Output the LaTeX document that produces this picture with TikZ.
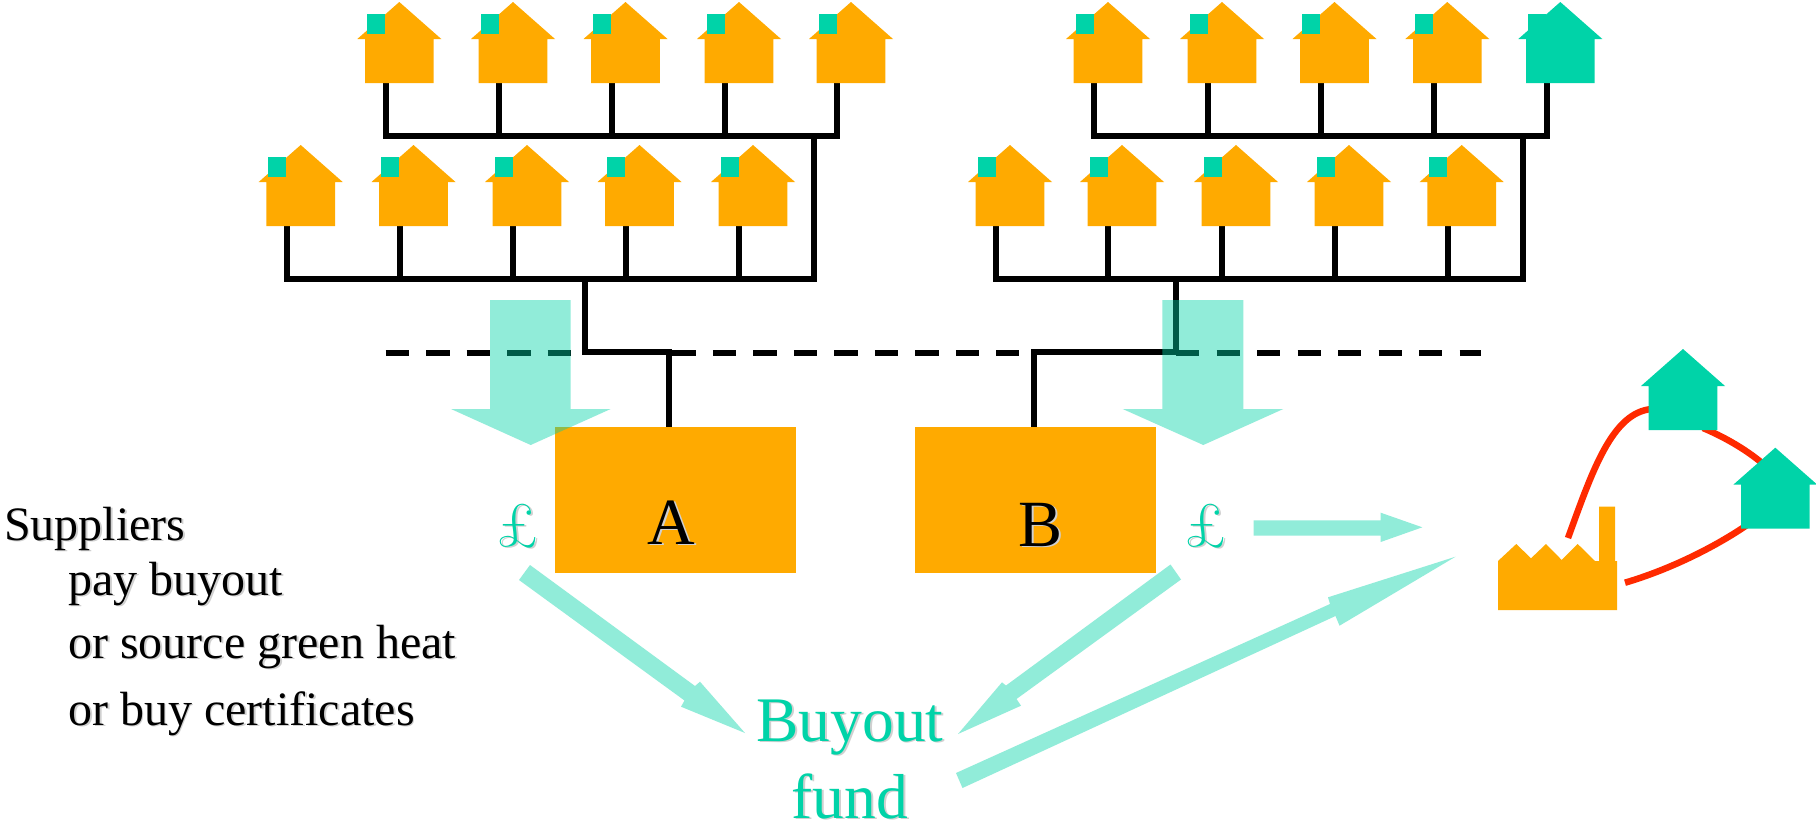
\documentclass[tikz,border=0pt]{standalone}
\usepackage{fontspec}
\setmainfont{Liberation Serif}
\newfontfamily\lmfam{Latin Modern Roman}
\definecolor{hsorange}{HTML}{FFAA00}
\definecolor{hsteal}{HTML}{00D3A8}
\definecolor{hsred}{HTML}{FF2A00}
\definecolor{hsshadow}{HTML}{D0D0D0}
\newcommand\shtext[1]{\leavevmode\rlap{\kern1.8pt\raisebox{-1.8pt}{\color{hsshadow}#1}}#1}
\newcommand\fsz[1]{\fontsize{#1}{#1}\selectfont}
\newcommand\houseat[5]{%
  \coordinate (#1-w) at (#2-13.6,#3+81);
  \begin{scope}[shift={(#2,#3)}]
    \fill[#4] (0,0) -- (42,37) -- (34.3,37) -- (34.3,81) -- (-34.3,81) -- (-34.3,37) -- (-42,37) -- cycle;
    \path[fill=#5] (-32.5,12) rectangle (-14.5,32);
  \end{scope}}
\tikzset{
  wire/.style={line width=6pt,draw=black,line cap=rect,line join=miter},
  dashline/.style={line width=6pt,draw=black,dash pattern=on 23.3pt off 17.2pt},
  flow/.style={fill=hsteal,fill opacity=0.43,draw=none},
  redlink/.style={line width=6.5pt,draw=hsred},
  firm/.style={fill=hsorange,draw=none,rectangle,inner sep=0pt,minimum height=146pt},
  txt/.style={inner sep=0pt,anchor=base west,text=black},
  cen/.style={inner sep=0pt,anchor=base},
}
\begin{document}
\begin{tikzpicture}[x=1pt,y=-1pt]
\useasboundingbox (0,0) rectangle (1816,825);
\fill[white] (0,0) rectangle (1816,825);

% bus coordinates
\coordinate (busT) at (0,136);
\coordinate (busB) at (0,278.5);
\coordinate (leftDrop) at (814,0);
\coordinate (rightDrop) at (1523.3,0);

% house anchors (drawn later), wires first
\foreach \nm/\hx in {a1/399.3,a2/513,a3/625.5,a4/739,a5/851,c1/1108,c2/1222,c3/1334.5,c4/1447.3,c5/1560.3}
  \coordinate (\nm-w) at (\hx-13.6,83);
\foreach \nm/\hx in {b1/300.7,b2/413.5,b3/527,b4/639.5,b5/753,d1/1010,d2/1122,d3/1236,d4/1349,d5/1461.7}
  \coordinate (\nm-w) at (\hx-13.6,226);

\foreach \nm in {a1,a2,a3,a4,a5,c1,c2,c3,c4,c5}
  \draw[wire] (\nm-w) -- (\nm-w |- busT);
\foreach \nm in {b1,b2,b3,b4,b5,d1,d2,d3,d4,d5}
  \draw[wire] (\nm-w) -- (\nm-w |- busB);
\draw[wire] (a1-w |- busT) -- (a5-w |- busT);
\draw[wire] (c1-w |- busT) -- (c5-w |- busT);
\draw[wire] (b1-w |- busB) -- (leftDrop |- busB);
\draw[wire] (d1-w |- busB) -- (rightDrop |- busB);
\draw[wire] (leftDrop |- busT) -- (leftDrop |- busB);
\draw[wire] (rightDrop |- busT) -- (rightDrop |- busB);

% dashed line pieces
\coordinate (da1) at (385.7,352.5); \coordinate (da2) at (585,352.5);
\coordinate (db1) at (672.4,352.5); \coordinate (db2) at (1019,352.5);
\coordinate (dc1) at (1176,352.5); \coordinate (dc2) at (1481,352.5);
\draw[dashline] (da1) -- (da2);
\draw[dashline] (db1) -- (db2);
\draw[dashline] (dc1) -- (dc2);

% firm boxes
\node[firm,minimum width=241pt] (boxA) at (675.5,500) {};
\node[firm,minimum width=240.5pt] (boxB) at (1035.3,500) {};
\node[cen] (labA) at (671.5,544) {\fsz{66}\shtext{A}};
\node[cen] (labB) at (1040.5,546) {\fsz{66}\shtext{B}};

% connections to the firms
\coordinate (ja) at (585,278.5);
\coordinate (jb) at (1175.7,278.5);
\draw[wire,line cap=butt] (ja) -- (585,352.3) -- (669,352.3) -- (669,426.5);
\draw[wire,line cap=butt] (jb) -- (1175.7,352.3) -- (1034,352.3) -- (1034,426.5);

% houses
\houseat{a1}{399.3}{2}{hsorange}{hsteal}
\houseat{a2}{513}{2}{hsorange}{hsteal}
\houseat{a3}{625.5}{2}{hsorange}{hsteal}
\houseat{a4}{739}{2}{hsorange}{hsteal}
\houseat{a5}{851}{2}{hsorange}{hsteal}
\houseat{b1}{300.7}{145}{hsorange}{hsteal}
\houseat{b2}{413.5}{145}{hsorange}{hsteal}
\houseat{b3}{527}{145}{hsorange}{hsteal}
\houseat{b4}{639.5}{145}{hsorange}{hsteal}
\houseat{b5}{753}{145}{hsorange}{hsteal}
\houseat{c1}{1108}{2}{hsorange}{hsteal}
\houseat{c2}{1222}{2}{hsorange}{hsteal}
\houseat{c3}{1334.5}{2}{hsorange}{hsteal}
\houseat{c4}{1447.3}{2}{hsorange}{hsteal}
\houseat{c5}{1560.3}{2}{hsteal}{hsteal}
\houseat{d1}{1010}{145}{hsorange}{hsteal}
\houseat{d2}{1122}{145}{hsorange}{hsteal}
\houseat{d3}{1236}{145}{hsorange}{hsteal}
\houseat{d4}{1349}{145}{hsorange}{hsteal}
\houseat{d5}{1461.7}{145}{hsorange}{hsteal}

% big translucent arrows
\fill[flow] (490,300) -- (570.7,300) -- (570.7,409) -- (610.7,409) -- (530.7,445) -- (451,409) -- (490,409) -- cycle;
\fill[flow] (1162.3,300) -- (1243.3,300) -- (1243.3,409) -- (1283.3,409) -- (1203.3,445) -- (1122.7,409) -- (1162.3,409) -- cycle;

% flow arrows
\fill[flow] (530,565) -- (519,580) -- (684.5,700.5) -- (681,706.7) -- (745,733) -- (700,681.7) -- (695,686) -- cycle;
\fill[flow] (1170.5,564.5) -- (1181,579.5) -- (1016.5,699) -- (1021,705.7) -- (958,734) -- (1002,682.3) -- (1006,685.5) -- cycle;
\fill[flow] (956,773) -- (962.5,788) -- (1335.5,616) -- (1339.5,625.7) -- (1455.5,556.7) -- (1328,597.3) -- (1330,604) -- cycle;
\fill[flow] (1253.7,520.3) -- (1380.7,520.3) -- (1380.7,512.7) -- (1422.3,527.3) -- (1380.7,542) -- (1380.7,535.7) -- (1253.7,535.7) -- cycle;

% red network
\coordinate (r1a) at (1568,538); \coordinate (r1b) at (1652,409);
\coordinate (r2a) at (1703,428); \coordinate (r2b) at (1762,463);
\coordinate (r3a) at (1625,582.7); \coordinate (r3b) at (1750,523);
\draw[redlink] (r1a) .. controls (1592,472) and (1612,412) .. (r1b);
\draw[redlink] (r2a) .. controls (1722,436) and (1744,448) .. (r2b);
\draw[redlink] (r3a) .. controls (1668,570) and (1714,548) .. (r3b);
\houseat{e1}{1683}{349}{hsteal}{none}
\houseat{e2}{1775.3}{447.7}{hsteal}{none}

% factory
\fill[hsorange] (1498,561) -- (1516.3,544) -- (1531,558.3) -- (1546,544) -- (1561.7,560) -- (1577.7,544) -- (1595,561) -- (1599,561) -- (1599,506.7) -- (1615,506.7) -- (1615,561) -- (1617,561) -- (1617,610) -- (1498,610) -- cycle;

% text
\node[txt] (t0) at (4,540) {\fsz{48}\shtext{Suppliers}};
\node[txt] (t1) at (68,595) {\fsz{48}\shtext{pay buyout}};
\node[txt] (t2) at (68,658) {\fsz{48}\shtext{or source green heat}};
\node[txt] (t3) at (68,725) {\fsz{48}\shtext{or buy certificates}};
\node[cen,text=hsteal] (p1) at (518,546) {\fsz{62}\lmfam\shtext{£}};
\node[cen,text=hsteal] (p2) at (1206,546) {\fsz{62}\lmfam\shtext{£}};
\node[cen,text=hsteal] (f1) at (850,741) {\fsz{63.5}\shtext{Buyout}};
\node[cen,text=hsteal] (f2) at (850,818) {\fsz{63.5}\shtext{fund}};
\end{tikzpicture}
\end{document}
